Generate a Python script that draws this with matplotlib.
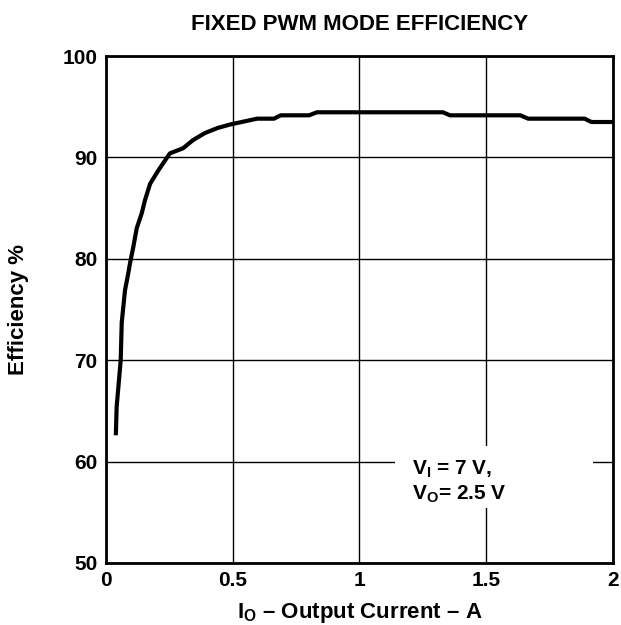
import matplotlib
matplotlib.use("Agg")
import matplotlib.pyplot as plt
from matplotlib.patches import Rectangle

plt.rcParams["font.family"] = ["Liberation Sans", "DejaVu Sans"]
plt.rcParams["font.weight"] = "bold"
plt.rcParams["mathtext.fontset"] = "custom"
plt.rcParams["mathtext.rm"] = "Liberation Sans:bold"
plt.rcParams["mathtext.it"] = "Liberation Sans:bold"
plt.rcParams["mathtext.bf"] = "Liberation Sans:bold"
plt.rcParams["mathtext.default"] = "rm"

# Efficiency vs output current, VI = 7 V, VO = 2.5 V
current_a = [0.039, 0.042, 0.058, 0.062, 0.075, 0.088, 0.095, 0.108, 0.121,
             0.141, 0.154, 0.174, 0.206, 0.233, 0.252, 0.304, 0.343, 0.39,
             0.44, 0.489, 0.596, 0.663, 0.689, 0.801, 0.832, 1.329, 1.357,
             1.635, 1.665, 1.888, 1.915, 2.0]
efficiency_pct = [62.8, 65.4, 70.0, 73.7, 76.9, 78.6, 79.6, 81.2, 83.0,
                  84.5, 85.8, 87.4, 88.7, 89.7, 90.4, 90.9, 91.7, 92.4,
                  92.9, 93.24, 93.82, 93.82, 94.15, 94.15, 94.45, 94.45, 94.15,
                  94.15, 93.82, 93.82, 93.49, 93.49]

x_ticks = [0, 0.5, 1, 1.5, 2]
x_tick_labels = ["0", "0.5", "1", "1.5", "2"]
y_ticks = [50, 60, 70, 80, 90, 100]
y_tick_labels = ["50", "60", "70", "80", "90", "100"]

fig = plt.figure(figsize=(6.21, 6.25), dpi=100)
ax = fig.add_axes([0.1707, 0.0992, 0.8164, 0.8112])

ax.set_xlim(0, 2)
ax.set_ylim(50, 100)
ax.set_xticks(x_ticks)
ax.set_xticklabels(x_tick_labels)
ax.set_yticks(y_ticks)
ax.set_yticklabels(y_tick_labels)
ax.tick_params(length=0, labelsize=15, pad=6)
for lab in ax.get_xticklabels() + ax.get_yticklabels():
    lab.set_fontweight("bold")

ax.grid(True, color="black", linewidth=1.0)
ax.set_axisbelow(True)
for sp in ax.spines.values():
    sp.set_linewidth(2.0)
    sp.set_color("black")

ax.plot(current_a, efficiency_pct, color="black", linewidth=3.0,
        solid_joinstyle="round", zorder=4)

# White patch behind the operating-condition note
ax.add_patch(Rectangle((1.14, 55.4), 0.781, 6.1, facecolor="white",
                       edgecolor="none", zorder=2))
ax.text(1.207, 58.0, "$V_I$ = 7 V,\n$V_O$= 2.5 V", fontsize=15,
        fontweight="bold", ha="left", va="center", linespacing=1.2, zorder=5)

ax.set_title("FIXED PWM MODE EFFICIENCY", fontsize=16, fontweight="bold", pad=19)
ax.set_xlabel("$I_O$ – Output Current – A", fontsize=16, fontweight="bold",
              labelpad=8)
ax.set_ylabel("Efficiency %", fontsize=16, fontweight="bold", labelpad=24)

fig.savefig("out.png", dpi=100)
